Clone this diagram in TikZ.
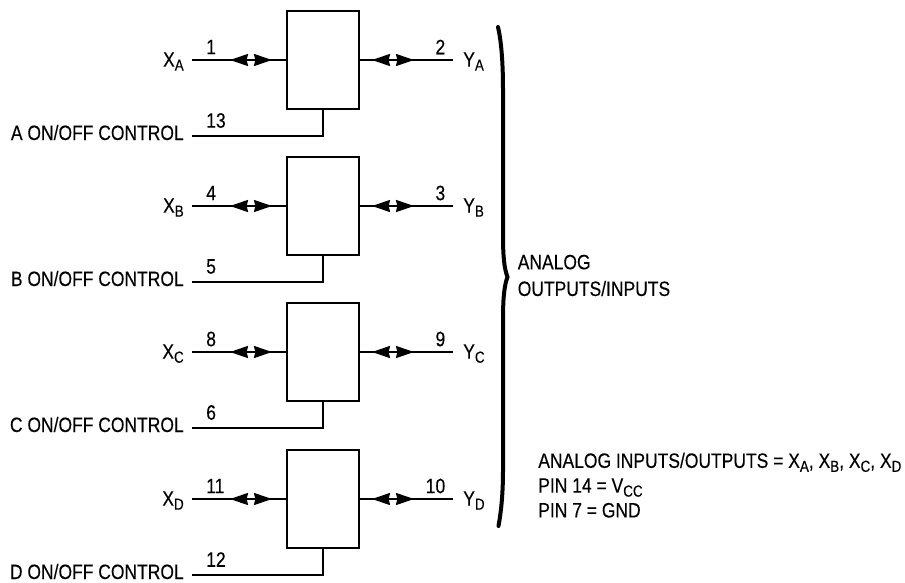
\documentclass[tikz,border=0pt]{standalone}
\usepackage{fontspec}
\setmainfont[FakeStretch=0.84,FakeBold=0.25]{Liberation Sans}
\usetikzlibrary{arrows.meta}
\newcommand{\lowsub}[1]{\raisebox{-0.36ex}{\fontsize{12pt}{12pt}\selectfont #1}}
\tikzstyle{switchbox}=[draw,line width=1.5pt,minimum width=54pt,minimum height=73pt,inner sep=0pt]
\tikzstyle{wire} = [draw,line width=1.5pt,-]
\tikzstyle{biarrow} = [draw,line width=1.5pt,{Stealth[length=13.5pt,width=9pt,inset=1pt]}-{Stealth[length=13.5pt,width=9pt,inset=1pt]}]
\tikzstyle{pinlabel}=[inner sep=0pt,font=\fontsize{15.6pt}{18.6pt}\selectfont]
\begin{document}
\begin{tikzpicture}[x=0.75pt,y=-0.75pt]
    \useasboundingbox (0,0) rectangle (905,582);
    % First we draw the four switches
    \foreach \name/\top/\xpin/\ypin/\cpin in {A/0/1/2/13, B/146/4/3/5, C/292/8/9/6, D/439/11/10/12}
    {
        \begin{scope}[yshift=-\top*0.75pt]
        \node[switchbox] (box\name) at (323,60) {};
        \coordinate (xfree\name) at (192,60);
        \coordinate (yfree\name) at (453,60);
        \coordinate (ctlfree\name) at (192,136);
        \coordinate (xtipl\name) at (230,60);
        \coordinate (xtipr\name) at (272,60);
        \coordinate (ytipl\name) at (372,60);
        \coordinate (ytipr\name) at (414,60);
        \node[pinlabel,anchor=base east] (xlab\name) at (184,66.7) {X\lowsub{\name}};
        \node[pinlabel,anchor=base west] (ylab\name) at (463,66.7) {Y\lowsub{\name}};
        \node[pinlabel,anchor=base east] (ctllab\name) at (184,140) {\name{} ON/OFF CONTROL};
        \node[pinlabel,anchor=west] (xnum\name) at (206,47) {\xpin};
        \node[pinlabel,anchor=east] (ynum\name) at (445.5,47) {\ypin};
        \node[pinlabel,anchor=west] (cnum\name) at (206,120.5) {\cpin};
        \end{scope}
        % Connect each switch with its pins
        \path[wire] (xfree\name) -- (box\name.west);
        \path[wire] (box\name.east) -- (yfree\name);
        \path[wire] (ctlfree\name) -| (box\name.south);
        \path[biarrow] (xtipl\name) -- (xtipr\name);
        \path[biarrow] (ytipl\name) -- (ytipr\name);
    }
    % Brace and notes
    \draw[line width=3pt,line cap=round] (498,27) .. controls (501,40) and (503,60) .. (503,90) -- (503,235)
        .. controls (503,255) and (504,268) .. (507.5,277) .. controls (504,286) and (503,300) .. (503,320)
        -- (503,470) .. controls (503,495) and (501,512) .. (498.5,526);
    \node[pinlabel,anchor=north west,align=left,font=\fontsize{15.6pt}{20pt}\selectfont] (outnote) at (517.5,254.5) {ANALOG\\OUTPUTS/INPUTS};
    \node[pinlabel,anchor=north west,align=left] (pinnote) at (538,452.5) {ANALOG INPUTS/OUTPUTS = X\lowsub{A}, X\lowsub{B}, X\lowsub{C}, X\lowsub{D}\\PIN 14 = V\lowsub{CC}\\PIN 7 = GND};
\end{tikzpicture}
\end{document}
